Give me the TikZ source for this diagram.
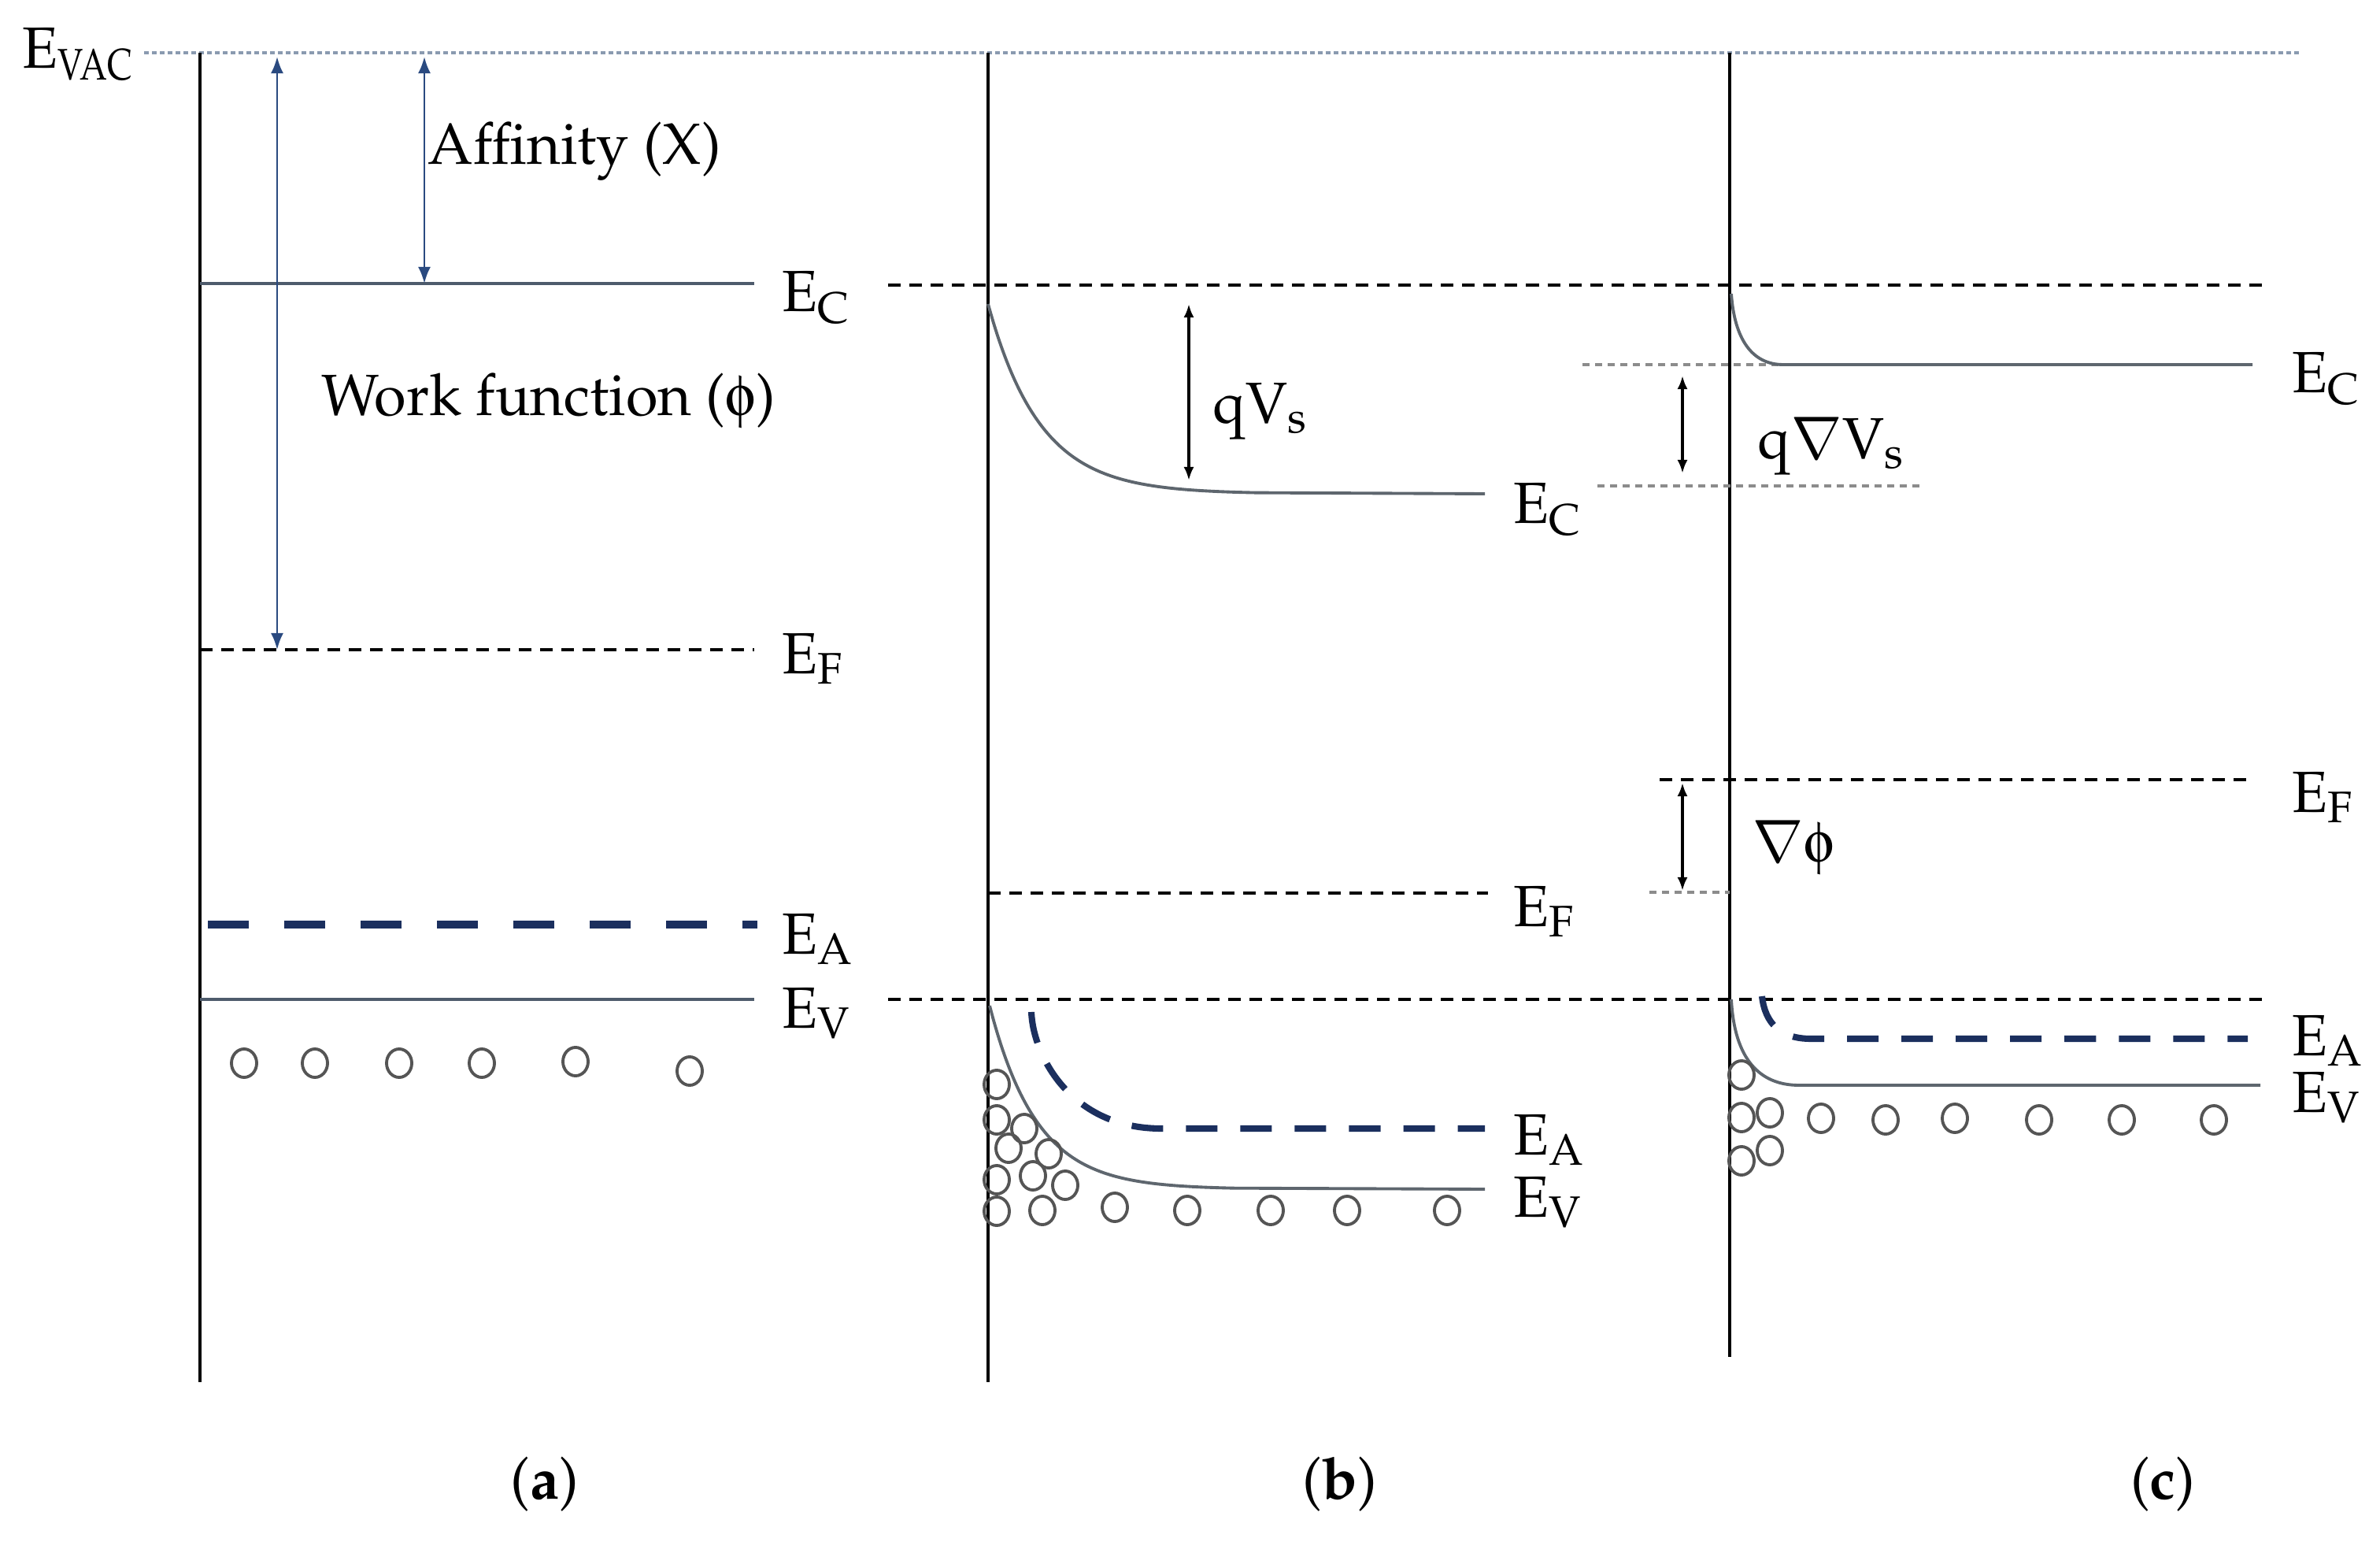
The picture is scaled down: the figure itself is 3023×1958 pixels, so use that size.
\documentclass[tikz,border=0pt]{standalone}
\usepackage[T1]{fontenc}
\usepackage{mathpazo}
\usepackage[Symbol]{upgreek}
\usepackage{graphicx}
\usetikzlibrary{arrows.meta}
\definecolor{navy}{HTML}{1B2F5E}
\definecolor{arrblue}{HTML}{2A4A80}
\definecolor{slate}{HTML}{4E5B6C}
\definecolor{bandgray}{HTML}{5E666E}
\definecolor{vacblue}{HTML}{8A9AB0}
\definecolor{holegray}{HTML}{555555}
\definecolor{dotgray}{HTML}{8C8C8C}
\tikzset{
  axisline/.style={line width=1pt, black},
  vacline/.style={line width=0.9pt, vacblue, dash pattern=on 0.06cm off 0.04cm},
  blackdash/.style={line width=1.3pt, black, dash pattern=on 0.16cm off 0.11cm},
  graydot/.style={line width=1pt, dotgray, dash pattern=on 0.09cm off 0.07cm},
  bandline/.style={line width=1.1pt, bandgray},
  ecline/.style={line width=1pt, slate},
  accbig/.style={line width=3pt, navy, dash pattern=on 0.52cm off 0.45cm},
  accsmall/.style={line width=2.3pt, navy, dash pattern=on 0.40cm off 0.29cm},
  hole/.style={line width=1.1pt, holegray},
  bluearrow/.style={line width=0.8pt, arrblue, {Latex[length=0.21cm,width=0.16cm]}-{Latex[length=0.21cm,width=0.16cm]}},
  blackarrow/.style={line width=1pt, black, {Latex[length=0.17cm,width=0.13cm]}-{Latex[length=0.17cm,width=0.13cm]}},
  lbl/.style={anchor=base west, inner sep=0pt},
  captionlbl/.style={anchor=center, inner sep=0pt}
}
\newcommand{\hl}[1]{\draw[hole] #1 ellipse [x radius=0.16cm, y radius=0.18cm];}
\begin{document}
\begin{tikzpicture}[x=0.01cm, y=-0.01cm, font=\fontsize{21}{25}\selectfont]
\useasboundingbox (0,0) rectangle (3023,1958);

% ---------- coordinates ----------
\coordinate (vacL) at (183,67);  \coordinate (vacR) at (2921,67);
\coordinate (aT) at (254,67);    \coordinate (aB) at (254,1755);
\coordinate (bT) at (1255,67);   \coordinate (bB) at (1255,1755);
\coordinate (cT) at (2197,67);   \coordinate (cB) at (2197,1723);

% vacuum level
\draw[vacline] (vacL) -- (vacR);
\node[lbl] (evac) at (28,87) {E\scalebox{0.8}[1]{$_\mathrm{VAC}$}};

% vertical surfaces
\draw[axisline] (aT) -- (aB);
\draw[axisline] (bT) -- (bB);
\draw[axisline] (cT) -- (cB);

% ---------------- (a) ----------------
\coordinate (aEC0) at (254,360);  \coordinate (aEC1) at (958,360);
\coordinate (aEF0) at (254,825);  \coordinate (aEF1) at (958,825);
\coordinate (aEA0) at (264,1174); \coordinate (aEA1) at (962,1174);
\coordinate (aEV0) at (254,1269); \coordinate (aEV1) at (958,1269);
\draw[ecline] (aEC0) -- (aEC1);
\draw[blackdash] (aEF0) -- (aEF1);
\draw[accbig] (aEA0) -- (aEA1);
\draw[ecline] (aEV0) -- (aEV1);
\node[lbl] (aECl) at (993,396) {E$_\mathrm{C}$};
\node[lbl] (aEFl) at (993,855) {E$_\mathrm{F}$};
\node[lbl] (aEAl) at (993,1211) {E$_\mathrm{A}$};
\node[lbl] (aEVl) at (993,1305) {E$_\mathrm{V}$};

\coordinate (wfT) at (352,72);  \coordinate (wfB) at (352,825);
\coordinate (afT) at (539,72);  \coordinate (afB) at (539,360);
\draw[bluearrow] (wfT) -- (wfB);
\draw[bluearrow] (afT) -- (afB);
\node[lbl] (aff) at (543,209) {Affinity (X)};
\node[lbl] (wf) at (408,528) {Work function ($\upphi$)};

\hl{(310,1350)} \hl{(400,1350)} \hl{(507,1350)} \hl{(612,1350)}
\hl{(731,1348)} \hl{(876,1360)}

% ---------------- (b) + (c) long levels ----------------
\coordinate (ECd0) at (1128,362); \coordinate (ECd1) at (2882,362);
\coordinate (EVd0) at (1128,1269); \coordinate (EVd1) at (2873,1269);
\draw[blackdash] (ECd0) -- (ECd1);
\draw[blackdash] (EVd0) -- (EVd1);

% ---------------- (b) ----------------
\draw[bandline] plot[domain=0:340, samples=80, smooth] ({1255+\x},{627-241*exp(-\x/66)}) -- (1886,627);
\draw[bandline] plot[domain=0:310, samples=80, smooth] ({1257+\x},{1510-233*exp(-\x/60)}) -- (1886,1510);
\draw[accsmall] (1310,1285) .. controls (1312,1340) and (1360,1433) .. (1475,1433) -- (1886,1433);
\coordinate (bEF0) at (1255,1134); \coordinate (bEF1) at (1890,1134);
\draw[blackdash] (bEF0) -- (bEF1);
\node[lbl] (bECl) at (1922,665) {E$_\mathrm{C}$};
\node[lbl] (bEFl) at (1922,1176) {E$_\mathrm{F}$};
\node[lbl] (bEAl) at (1922,1466) {E$_\mathrm{A}$};
\node[lbl] (bEVl) at (1922,1545) {E$_\mathrm{V}$};

\coordinate (qvT) at (1510,386); \coordinate (qvB) at (1510,610);
\draw[blackarrow] (qvT) -- (qvB);
\node[lbl] (qvs) at (1540,538) {qV$_\mathrm{s}$};

\hl{(1266,1377)} \hl{(1266,1422)} \hl{(1301,1433)} \hl{(1281,1458)}
\hl{(1332,1465)} \hl{(1266,1498)} \hl{(1312,1493)} \hl{(1353,1505)}
\hl{(1266,1538)} \hl{(1324,1537)} \hl{(1416,1533)} \hl{(1508,1537)}
\hl{(1614,1537)} \hl{(1711,1537)} \hl{(1838,1537)}

% ---------------- (c) ----------------
\draw[graydot] (2010,463) -- (2424,463);
\draw[graydot] (2029,617) -- (2444,617);
\draw[graydot] (2095,1133) -- (2197,1133);
\draw[bandline] (2199,373) .. controls (2203,430) and (2225,463) .. (2265,463) -- (2861,463);
\draw[bandline] (2199,1269) .. controls (2203,1345) and (2235,1378) .. (2285,1378) -- (2871,1378);
\draw[accsmall] (2238,1265) .. controls (2242,1300) and (2262,1319) .. (2300,1319) -- (2855,1319);
\coordinate (cEF0) at (2108,990); \coordinate (cEF1) at (2861,990);
\draw[blackdash] (cEF0) -- (cEF1);
\node[lbl] (cECl) at (2911,499) {E$_\mathrm{C}$};
\node[lbl] (cEFl) at (2911,1031) {E$_\mathrm{F}$};
\node[lbl] (cEAl) at (2911,1340) {E$_\mathrm{A}$};
\node[lbl] (cEVl) at (2911,1412) {E$_\mathrm{V}$};

\coordinate (dvT) at (2137,477); \coordinate (dvB) at (2137,601);
\draw[blackarrow] (dvT) -- (dvB);
\node[lbl] (qdvs) at (2232,583) {q$\nabla$V$_\mathrm{s}$};
\coordinate (dpT) at (2137,994); \coordinate (dpB) at (2137,1131);
\draw[blackarrow] (dpT) -- (dpB);
\node[lbl] (dphi) at (2225,1094) {$\nabla\upphi$};

\hl{(2212,1365)} \hl{(2212,1419)} \hl{(2248,1413)} \hl{(2313,1420)}
\hl{(2395,1422)} \hl{(2483,1420)} \hl{(2590,1422)} \hl{(2695,1422)}
\hl{(2812,1422)} \hl{(2212,1474)} \hl{(2248,1461)}

% ---------------- captions ----------------
\node[captionlbl] (capa) at (692,1885) {(\textbf{a})};
\node[captionlbl] (capb) at (1702,1885) {(\textbf{b})};
\node[captionlbl] (capc) at (2747,1885) {(\textbf{c})};
\end{tikzpicture}
\end{document}
